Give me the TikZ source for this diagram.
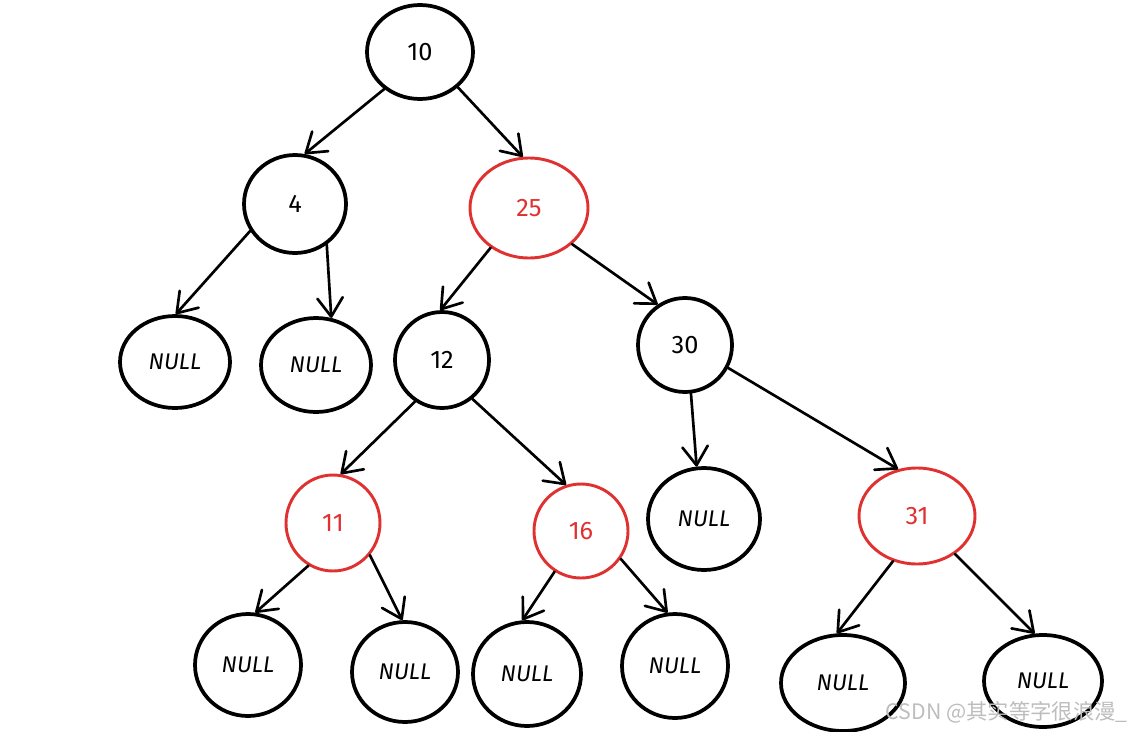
\documentclass[tikz,border=0pt]{standalone}
\usepackage{fontspec}
\setmainfont{Fira Sans}
\newfontfamily\cjkwm{Noto Sans CJK SC}
\usetikzlibrary{shapes.geometric,arrows.meta}
\definecolor{exred}{HTML}{E03131}
\definecolor{wmgray}{HTML}{BDBDBD}
\tikzset{
  nd/.style={ellipse, draw=black, line width=2.8pt, inner sep=0pt, font=\fontsize{19}{22}\selectfont, text=black},
  rednd/.style={nd, draw=exred, text=exred, line width=2.2pt},
  nullnd/.style={nd, font=\fontsize{17}{20}\selectfont\itshape},
  sz/.style 2 args={minimum width=#1*1.5pt, minimum height=#2*1.5pt},
  edge/.style={line width=2pt, line cap=round, -{Straight Barb[length=14pt, width=19pt, line width=2pt, round]}},
}
\begin{document}
\begin{tikzpicture}[x=0.75pt, y=-0.75pt]
\useasboundingbox (0,0) rectangle (1132,732);
% nodes
\node[nd, sz={53}{47}] (n10) at (420,52) {10};
\node[nd, sz={51}{49}] (n4) at (295,204) {4};
\node[rednd, sz={59}{50}] (n25) at (529,208) {25};
\node[nullnd, sz={55}{46}] (l1) at (175,362) {NULL};
\node[nullnd, sz={55}{47}] (l2) at (316,365) {NULL};
\node[nd, sz={47}{48}] (n12) at (442,360) {12};
\node[nd, sz={47}{47}] (n30) at (685,345) {30};
\node[rednd, sz={47}{48}] (n11) at (333,523) {11};
\node[rednd, sz={47}{47}] (n16) at (581,531) {16};
\node[nullnd, sz={56}{51}] (l3) at (704,519) {NULL};
\node[rednd, sz={58}{48}] (n31) at (917,516) {31};
\node[nullnd, sz={53}{51}] (l4) at (248,665) {NULL};
\node[nullnd, sz={53}{50}] (l5) at (405,672) {NULL};
\node[nullnd, sz={54}{52}] (l6) at (527,674) {NULL};
\node[nullnd, sz={53}{52}] (l7) at (675,666) {NULL};
\node[nullnd, sz={62}{48}] (l8) at (843,683) {NULL};
\node[nullnd, sz={59}{46}] (l9) at (1043,681) {NULL};
% edges
\draw[edge] (n10.-134) -- (n4.79);
\draw[edge] (n10.-43) -- (n25.97);
\draw[edge] (n4.-149) -- (l1.89);
\draw[edge] (n4.-52) -- (l2.72);
\draw[edge] (n25.-134) -- (n12.92);
\draw[edge] (n25.-40) -- (n30.124);
\draw[edge] (n12.-123) -- (n11.81);
\draw[edge] (n12.-52) -- (n16.108);
\draw[edge] (n30.-83) -- (l3.98);
\draw[edge] (n30.-28) -- (n31.112);
\draw[edge] (n11.-120) -- (l4.82);
\draw[edge] (n11.-41) -- (l5.93);
\draw[edge] (n16.-123) -- (l6.95);
\draw[edge] (n16.-35) -- (l7.98);
\draw[edge] (n31.-118) -- (l8.97);
\draw[edge] (n31.-45) -- (l9.100);
% watermark
\node[anchor=east, inner sep=0pt, text=wmgray, font=\cjkwm\fontsize{16}{18}\selectfont] (wm) at (1128,712) {CSDN @其实等字很浪漫\_};
\end{tikzpicture}
\end{document}
